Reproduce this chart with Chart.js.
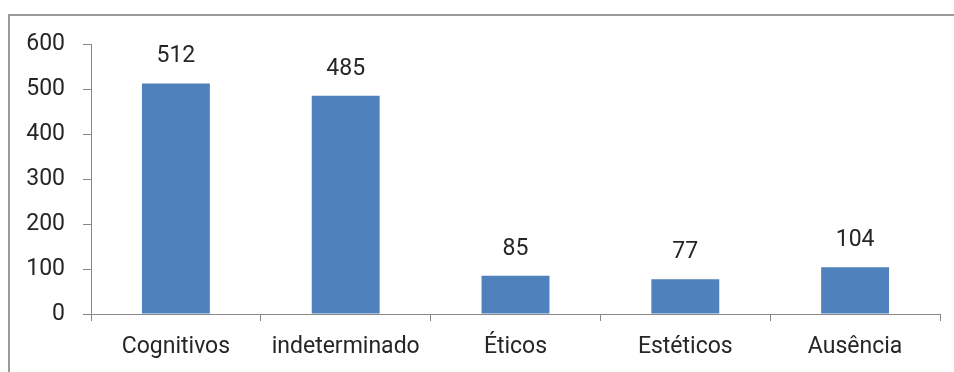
<!DOCTYPE html>
<html>
<head>
<meta charset="utf-8">
<script src="https://cdn.jsdelivr.net/npm/chart.js@4/dist/chart.umd.min.js"></script>
<style>
    html, body { margin: 0; padding: 0; background: #fff; }
    #wrap { position: relative; width: 954px; height: 372px; overflow: hidden; }
    #frame {
        position: absolute; left: 8px; top: 14px; right: -10px; bottom: -10px;
        border-top: 2px solid #9a9a9a; border-left: 2px solid #9a9a9a;
    }
    #barChart { position: absolute; left: 0; top: 0; }
</style>
</head>
<body>
<div id="wrap">
    <div id="frame"></div>
    <canvas id="barChart" width="954" height="372"></canvas>
</div>
<script>
const categorias = ['Cognitivos', 'indeterminado', 'Éticos', 'Estéticos', 'Ausência'];
const valores = [512, 485, 85, 77, 104];
const yTicks = [0, 100, 200, 300, 400, 500, 600];

const fonte = "Roboto, 'Liberation Sans', sans-serif";
const corTexto = '#262626';

// escreve o valor acima de cada barra
const rotuloValores = {
    id: 'rotuloValores',
    afterDatasetsDraw(chart) {
        const ctx = chart.ctx;
        const meta = chart.getDatasetMeta(0);
        ctx.save();
        ctx.font = '23px ' + fonte;
        ctx.fillStyle = corTexto;
        ctx.textAlign = 'center';
        ctx.textBaseline = 'middle';
        meta.data.forEach(function (bar, i) {
            ctx.fillText(valores[i], bar.x, bar.y - 27);
        });
        ctx.restore();
    }
};

new Chart(document.getElementById('barChart'), {
    type: 'bar',
    data: {
        labels: categorias,
        datasets: [{
            data: valores,
            backgroundColor: '#4f81bd',
            barPercentage: 0.4,
            categoryPercentage: 1
        }]
    },
    options: {
        responsive: false,
        animation: false,
        layout: { padding: { top: 44, right: 14, left: 0, bottom: 0 } },
        plugins: {
            legend: { display: false },
            tooltip: { enabled: false }
        },
        scales: {
            x: {
                afterFit: function (scale) { scale.height = 58; },
                grid: {
                    offset: true,
                    drawOnChartArea: false,
                    tickLength: 7,
                    color: '#888'
                },
                border: { color: '#888', width: 1 },
                ticks: {
                    color: corTexto,
                    padding: 12,
                    font: { family: fonte, size: 23 }
                }
            },
            y: {
                min: 0,
                max: 600,
                afterFit: function (scale) { scale.width = 91; },
                afterBuildTicks: function (scale) {
                    scale.ticks = yTicks.map(v => ({ value: v }));
                },
                grid: {
                    drawOnChartArea: false,
                    tickLength: 8,
                    color: '#888'
                },
                border: { color: '#888', width: 1 },
                ticks: {
                    color: corTexto,
                    padding: 18,
                    font: { family: fonte, size: 23 }
                }
            }
        }
    },
    plugins: [rotuloValores]
});
</script>
</body>
</html>
